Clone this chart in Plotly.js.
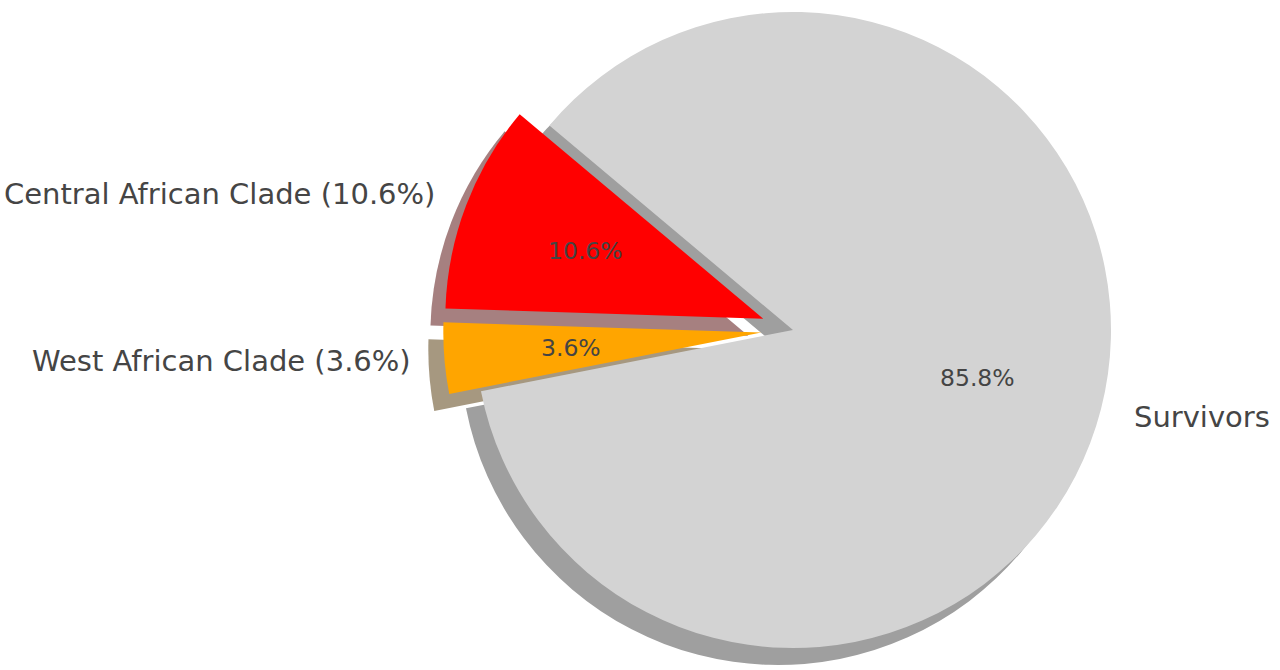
<!DOCTYPE html>
<html>
<head>
<meta charset="utf-8">
<script src="https://cdn.plot.ly/plotly-3.0.1.min.js"></script>
<style>
  html, body { margin: 0; padding: 0; overflow: hidden; background: #fff; }
  #grafica { position: absolute; left: 0; top: -28px; width: 1280px; height: 730px; }
</style>
</head>
<body>
<div id="grafica"></div>
<script>
// datos del grafico
var etiquetas = ['Central African Clade (10.6%)', 'West African Clade (3.6%)', 'Survivors'];
var valores = [10.6, 3.6, 85.8];
var colores = ['#ff0000', '#ffa500', '#d3d3d3'];
var separacion = [0.1, 0.1, 0];

// pie geometry (matplotlib style: startangle 140, counterclockwise)
var ANCHO = 1280, ALTO = 730;
var angulo_inicio = 140;
var radio = 318;
var centro_x = 793, centro_y = 372;   // px, y measured from bottom of the div
var sombra_dx = -15, sombra_dy = -17; // shadow offset in px

function dominio(cx, cy) {
    var maxPull = Math.max.apply(null, separacion);
    var d = 2 * radio * (1 + maxPull);
    return {
        x: [(cx - d / 2) / ANCHO, (cx + d / 2) / ANCHO],
        y: [(cy - d / 2) / ALTO, (cy + d / 2) / ALTO]
    };
}

// matplotlib shadow: 0.3 * color, alpha 0.5 over white
function color_sombra(hex) {
    var r = parseInt(hex.substr(1, 2), 16), g = parseInt(hex.substr(3, 2), 16), b = parseInt(hex.substr(5, 2), 16);
    function m(c) { return Math.round((0.3 * c + 255) / 2); }
    return 'rgb(' + m(r) + ',' + m(g) + ',' + m(b) + ')';
}

function pastel() {
    var total = valores.reduce(function (a, b) { return a + b; }, 0);
    // plotly counterclockwise: first slice ends at the rotation angle
    var rotacion = 90 - angulo_inicio - 360 * valores[0] / total;

    var sombra = {
        type: 'pie',
        values: valores,
        labels: etiquetas,
        sort: false,
        direction: 'counterclockwise',
        rotation: rotacion,
        pull: separacion,
        marker: { colors: colores.map(color_sombra), line: { width: 0 } },
        textinfo: 'none',
        hoverinfo: 'skip',
        showlegend: false,
        domain: dominio(centro_x + sombra_dx, centro_y + sombra_dy)
    };

    var pie = {
        type: 'pie',
        values: valores,
        labels: etiquetas,
        sort: false,
        direction: 'counterclockwise',
        rotation: rotacion,
        pull: separacion,
        marker: { colors: colores, line: { width: 0 } },
        textinfo: 'none',
        hoverinfo: 'label+percent',
        showlegend: false,
        domain: dominio(centro_x, centro_y)
    };

    // labels placed like matplotlib: labeldistance 1.1, pctdistance 0.6
    var anotaciones = [];
    var acumulado = 0;
    for (var i = 0; i < valores.length; i++) {
        var medio = angulo_inicio + 360 * (acumulado + valores[i] / 2) / total;
        acumulado += valores[i];
        var t = medio * Math.PI / 180;
        var ex = centro_x + separacion[i] * radio * Math.cos(t);
        var ey = centro_y + separacion[i] * radio * Math.sin(t);

        var lx = ex + 1.1 * radio * Math.cos(t);
        var ly = ey + 1.1 * radio * Math.sin(t);
        anotaciones.push({
            xref: 'paper', yref: 'paper',
            x: lx / ANCHO, y: ly / ALTO,
            xanchor: Math.cos(t) < 0 ? 'right' : 'left', yanchor: 'middle',
            text: etiquetas[i], showarrow: false,
            font: { family: 'DejaVu Sans', size: 29, color: '#454545' }
        });

        var px = ex + 0.6 * radio * Math.cos(t);
        var py = ey + 0.6 * radio * Math.sin(t);
        anotaciones.push({
            xref: 'paper', yref: 'paper',
            x: px / ANCHO, y: py / ALTO,
            xanchor: 'center', yanchor: 'middle',
            text: (100 * valores[i] / total).toFixed(1) + '%', showarrow: false,
            font: { family: 'DejaVu Sans', size: 23.5, color: '#444444' }
        });
    }

    var layout = {
        width: ANCHO,
        height: ALTO,
        margin: { t: 0, b: 0, l: 0, r: 0 },
        paper_bgcolor: '#ffffff',
        showlegend: false,
        annotations: anotaciones
    };

    Plotly.newPlot('grafica', [sombra, pie], layout, { displayModeBar: false });
}

pastel();
</script>
</body>
</html>
